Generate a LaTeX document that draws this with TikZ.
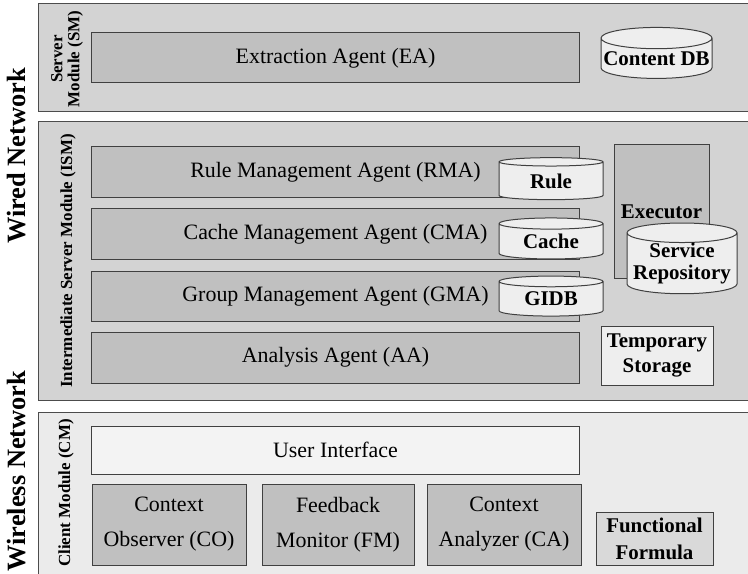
\documentclass[tikz,border=0pt]{standalone}
\usepackage{fontspec}
\setmainfont{Liberation Serif}
\usetikzlibrary{shapes.geometric,positioning}
\definecolor{panelgray}{HTML}{D3D3D3}
\definecolor{clientgray}{HTML}{EBEBEB}
\definecolor{agentgray}{HTML}{C0C0C0}
\definecolor{storegray}{HTML}{EEEEEE}
\definecolor{uigray}{HTML}{F3F3F3}
\definecolor{formulagray}{HTML}{D9D9D9}

\begin{document}
\begin{tikzpicture}[x=1bp, y=-1bp,
  panel/.style={rectangle, draw=black!70, line width=1bp, fill=panelgray, inner sep=0pt},
  agent/.style={rectangle, draw=black!75, line width=1bp, fill=agentgray, inner sep=0pt, align=center, font=\fontsize{22}{26}\selectfont},
  store/.style={cylinder, shape border rotate=90, aspect=0.2, draw=black!75, line width=1bp, fill=storegray, inner sep=0pt, align=center, font=\bfseries\fontsize{21}{22}\selectfont},
  modlabel/.style={rotate=90, align=center, font=\bfseries\fontsize{17}{17}\selectfont},
  netlabel/.style={rotate=90, font=\bfseries\fontsize{26.5}{30}\selectfont}
]
\clip (0,0) rectangle (748,574);

% --- Modulos ---
\node[panel, minimum width=730bp, minimum height=108bp] (sm) at (404,58) {};
\node[panel, minimum width=730bp, minimum height=278bp] (ism) at (404,261) {};
\node[panel, fill=clientgray, minimum width=730bp, minimum height=180bp] (cm) at (404,502) {};

\node[netlabel] (wired) at (17,156) {Wired Network};
\node[netlabel] (wireless) at (17,471) {Wireless Network};

\node[modlabel] (smlabel) at (67,59) {Server\\Module (SM)};
\node[modlabel] (ismlabel) at (68,261) {Intermediate Server Module (ISM)};
\node[modlabel] (cmlabel) at (66,493) {Client Module (CM)};

% --- Server Module ---
\node[agent, minimum width=487bp, minimum height=50bp] (ea) at (335.5,58) {Extraction Agent (EA)};
\node[store, minimum width=111bp, minimum height=51bp] (contentdb) at (656.5,58.5) {Content DB};

% --- Intermediate Server Module ---
\node[agent, minimum width=487bp, minimum height=50bp] (rma) at (335.5,172) {Rule Management Agent (RMA)};
\node[agent, minimum width=487bp, minimum height=50bp] (cma) at (335.5,234) {Cache Management Agent (CMA)};
\node[agent, minimum width=487bp, minimum height=50bp] (gma) at (335.5,296) {Group Management Agent (GMA)};
\node[agent, minimum width=487bp, minimum height=51bp] (aa) at (335.5,357.5) {Analysis Agent (AA)};
\node[store, minimum width=104bp, minimum height=42bp] (rule) at (551,181) {Rule};
\node[store, minimum width=104bp, minimum height=41bp] (cache) at (551,241.5) {Cache};
\node[store, minimum width=104bp, minimum height=40bp] (gidb) at (551,299) {GIDB};
\node[agent, minimum width=95bp, minimum height=133bp, font=\bfseries\fontsize{21}{22}\selectfont] (executor) at (661.5,211.5) {Executor};
\node[store, minimum width=110bp, minimum height=59bp] (repository) at (682,263.5) {Service\\Repository};
\node[agent, fill=storegray, minimum width=112bp, minimum height=59bp, font=\bfseries\fontsize{21}{26}\selectfont] (temp) at (657,355.5) {Temporary\\Storage};

% --- Client Module ---
\node[agent, fill=uigray, minimum width=487bp, minimum height=48bp] (ui) at (335.5,450) {User Interface};
\node[agent, minimum width=154bp, minimum height=81bp, font=\fontsize{22}{35}\selectfont] (co) at (169,524.5) {Context\\Observer (CO)};
\node[agent, minimum width=152bp, minimum height=81bp, font=\fontsize{22}{35}\selectfont] (fm) at (338,524.5) {Feedback\\Monitor (FM)};
\node[agent, minimum width=154bp, minimum height=81bp, font=\fontsize{22}{35}\selectfont] (ca) at (504,524.5) {Context\\Analyzer (CA)};
\node[agent, fill=formulagray, minimum width=117bp, minimum height=53bp, font=\bfseries\fontsize{21}{27}\selectfont] (formula) at (654.5,538.5) {Functional\\Formula};

\end{tikzpicture}
\end{document}
